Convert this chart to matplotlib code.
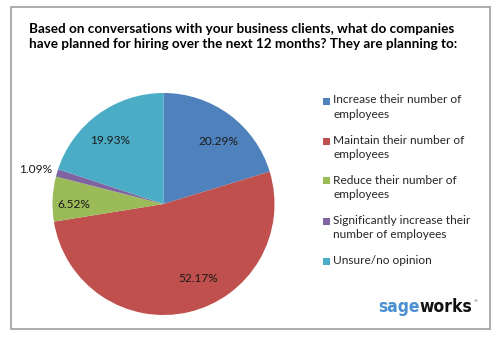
import numpy as np
import matplotlib
matplotlib.use('Agg')
import matplotlib.pyplot as plt
from matplotlib.patches import Rectangle

# data (clockwise from 12 o'clock)
labels = ['Increase their number of\nemployees',
          'Maintain their number of\nemployees',
          'Reduce their number of\nemployees',
          'Significantly increase their\nnumber of employees',
          'Unsure/no opinion']
shares = [20.29, 52.17, 6.52, 1.09, 19.93]
colors = ['#4F81BD', '#C0504D', '#9BBB59', '#8064A2', '#4BACC6']
title = ('Based on conversations with your business clients, what do companies\n'
         'have planned for hiring over the next 12 months? They are planning to:')

W, H = 500, 338
fig = plt.figure(figsize=(W/100, H/100), dpi=100)

# outer frame
fig.patches.append(Rectangle((10.5/W, 1-329/H), (490-10.5)/W, (329-7)/H,
                             transform=fig.transFigure, fill=False,
                             edgecolor='#a6a6a6', linewidth=1.3))

fig.text(29/W, 1-36.5/H, title, ha='left', va='center', fontsize=9.7,
         fontweight='bold', family=['Lato', 'DejaVu Sans'], color='#000000',
         linespacing=1.25)

# pie: centre (163.5, 204) px, radius 111 px
cx, cy, r = 163.5, 204, 111
ax = fig.add_axes([(cx-r)/W, 1-(cy+r)/H, 2*r/W, 2*r/H])
wedges, texts, autotexts = ax.pie(shares, colors=colors, startangle=90,
                                  counterclock=False, autopct='%.2f%%',
                                  textprops=dict(fontsize=8.6, family=['Lato', 'DejaVu Sans'],
                                                 color='#1a1a1a'))
ax.set_xlim(-1, 1)
ax.set_ylim(-1, 1)
ax.set_aspect('equal')
ax.axis('off')

# label placement as in the original: (distance, angle shift in degrees)
lab_pos = [(0.77, -3.5), (0.71, 13), (0.81, 1), (1.2, 0), (0.77, 3)]
for w, t, (d, da) in zip(wedges, autotexts, lab_pos):
    a = np.deg2rad((w.theta1 + w.theta2) / 2 + da)
    t.set_position((d*np.cos(a), d*np.sin(a) - 0.03))

# legend, drawn by hand so the marker sits at the first line
ly0, lstep = 101, 40
for i, (lab, c) in enumerate(zip(labels, colors)):
    y = ly0 + i*lstep
    fig.patches.append(Rectangle((323/W, 1-(y+3.5)/H), 7/W, 7/H,
                                 transform=fig.transFigure, facecolor=c,
                                 edgecolor='none'))
    fig.text(333/W, 1-(y-6.5)/H, lab, ha='left', va='top', fontsize=8.6,
             family=['Lato', 'DejaVu Sans'], color='#262626', linespacing=1.35)

# sageworks logo
logo_font = dict(fontsize=12.5, fontweight='bold', fontstretch='condensed',
                 family=['DejaVu Sans Condensed', 'Liberation Sans Narrow', 'DejaVu Sans'])
base_y = 1 - 312/H
sage = fig.text(378/W, base_y, 'sage', ha='left', va='baseline',
                color='#4a8fd0', **logo_font)
works = fig.text(0, base_y, 'works', ha='left', va='baseline', color='#111111', **logo_font)
fig.canvas.draw()
bb = sage.get_window_extent()
works.set_position((bb.x1/W, base_y))
fig.canvas.draw()
bb2 = works.get_window_extent()
fig.text(bb2.x1/W + 0.002, bb2.y1/H - 0.004, '®', fontsize=3, ha='left', va='top',
         color='#333333')

fig.savefig('out.png', dpi=100)
